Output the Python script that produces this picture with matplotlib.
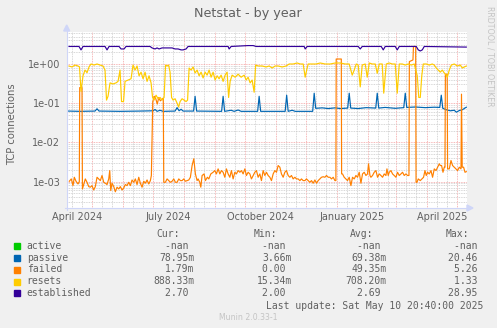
import numpy as np
import matplotlib
matplotlib.use("Agg")
import matplotlib.pyplot as plt
import matplotlib.dates as mdates
from matplotlib.ticker import FixedLocator, LogLocator, NullFormatter
from matplotlib.patches import Polygon, Rectangle
import matplotlib.transforms as mtransforms

START = np.datetime64("2024-04-05T20:40")
END = np.datetime64("2025-05-10T20:40")

# days since START / value (connections, daily averages)
passive_day = [1.3, 13.3, 28.3, 30.3, 32.3, 53.3, 73.3, 86.3, 88.3, 90.3, 93.3, 96.3,
               108.3, 110.3, 112.3, 114.3, 116.3, 126.8, 128.3, 129.8, 154.8, 156.3,
               157.8, 164.3, 167.3, 171.3, 174.3, 190.8, 192.3, 193.8, 218.3, 219.8,
               221.3, 225.3, 228.3, 245.8, 247.3, 248.8, 255.3, 261.3, 268.3, 273.3,
               280.8, 282.3, 283.8, 291.3, 299.3, 308.8, 310.3, 311.8, 318.3, 328.3,
               336.8, 338.3, 339.8, 348.3, 358.3, 367.3, 372.8, 374.3, 375.8, 379.3,
               383.3, 387.3, 389.3, 392.3, 395.3, 399.3]
passive_val = [0.063, 0.062, 0.063, 0.072, 0.063, 0.062, 0.063, 0.064, 0.069, 0.062,
               0.066, 0.062, 0.063, 0.077, 0.064, 0.070, 0.063, 0.063, 0.15, 0.063,
               0.062, 0.15, 0.062, 0.066, 0.062, 0.067, 0.062, 0.062, 0.15, 0.062,
               0.062, 0.16, 0.062, 0.066, 0.062, 0.062, 0.18, 0.074, 0.076, 0.073,
               0.076, 0.073, 0.075, 0.18, 0.075, 0.073, 0.077, 0.075, 0.18, 0.075,
               0.078, 0.074, 0.077, 0.18, 0.078, 0.080, 0.077, 0.079, 0.078, 0.16,
               0.074, 0.068, 0.064, 0.066, 0.059, 0.065, 0.068, 0.07895]

# failed is kept in milli-connections
failed_day = [2.6, 4.6, 6.3, 7.6, 9.3, 11.3, 12.6, 13.0, 15.3, 15.7, 18.6, 20.3, 22.0,
              23.6, 25.3, 27.0, 28.6, 30.3, 32.0, 33.6, 35.3, 37.0, 38.6, 40.3, 42.0,
              43.0, 44.0, 45.3, 47.0, 48.6, 50.3, 52.0, 53.6, 55.3, 57.0, 58.6, 60.3,
              62.0, 63.6, 65.3, 67.0, 68.6, 70.3, 72.0, 73.6, 75.3, 77.0, 78.6, 80.3,
              82.0, 83.6, 84.6, 86.0, 87.5, 89.0, 90.5, 92.0, 93.5, 95.0, 96.5, 97.0,
              98.6, 100.3, 102.0, 103.6, 105.3, 107.0, 108.6, 110.3, 112.0, 113.6,
              115.3, 117.0, 118.6, 120.3, 122.0, 123.6, 125.3, 127.0, 128.6, 130.3,
              131.3, 133.0, 134.0, 135.3, 137.3, 138.6, 140.6, 142.0, 144.0, 146.3,
              148.0, 149.6, 151.3, 153.0, 154.6, 156.3, 158.0, 159.6, 161.3, 163.0,
              164.6, 166.3, 168.0, 169.6, 171.3, 173.0, 174.6, 176.3, 178.0, 179.6,
              181.3, 183.0, 184.6, 186.3, 188.0, 189.6, 191.3, 193.0, 194.6, 196.3,
              198.0, 199.6, 201.3, 203.0, 204.6, 206.3, 208.0, 209.6, 211.3, 213.0,
              214.6, 216.3, 218.0, 219.6, 221.3, 223.0, 224.6, 226.3, 228.0, 229.6,
              231.3, 233.0, 234.6, 236.3, 238.0, 239.6, 241.3, 243.0, 244.6, 246.3,
              248.0, 249.6, 251.3, 253.0, 254.6, 256.3, 258.0, 259.6, 261.3, 263.0,
              264.6, 266.3, 268.0, 269.0, 269.3, 274.4, 274.7, 275.6, 277.3, 279.0,
              280.6, 282.3, 284.0, 285.6, 287.3, 289.0, 290.6, 292.3, 294.0, 295.6,
              297.3, 299.0, 300.6, 301.6, 303.0, 304.0, 305.6, 307.3, 309.0, 310.6,
              312.3, 314.0, 315.6, 317.3, 319.0, 320.0, 321.3, 322.3, 324.0, 325.6,
              327.3, 329.0, 330.6, 332.3, 334.0, 335.6, 337.3, 339.0, 340.6, 342.0,
              342.4, 346.0, 346.5, 348.7, 349.1, 350.0, 351.3, 353.3, 355.0, 356.6,
              358.0, 359.3, 360.6, 362.3, 364.0, 365.6, 367.3, 369.0, 370.6, 372.3,
              373.3, 374.6, 376.0, 377.3, 378.0, 378.4, 380.2, 380.6, 382.3, 384.0,
              385.6, 387.3, 389.0, 390.6, 392.3, 394.0, 394.5, 395.2, 396.6, 398.0,
              399.3]
failed_milli = [1.02, 1.17, 0.79, 1.29, 1.02, 0.87, 1.0, 250, 250, 0.65, 1.17, 0.96,
                0.745, 0.72, 0.79, 0.61, 0.745, 1.29, 1.17, 1.06, 1.43, 0.96, 0.91,
                0.84, 1.17, 1.91, 0.59, 0.91, 0.745, 0.55, 0.72, 0.65, 0.745, 0.61,
                0.69, 0.84, 0.79, 0.96, 0.79, 1.10, 0.96, 1.17, 0.84, 1.29, 0.91,
                0.72, 1.02, 0.91, 1.10, 0.87, 1.06, 1.43, 110, 150, 130, 95, 140, 115,
                125, 135, 0.96, 0.96, 1.17, 1.06, 0.96, 1.02, 1.17, 0.96, 0.96, 1.17,
                1.06, 1.06, 1.17, 1.02, 1.06, 1.10, 1.29, 2.57, 3.82, 1.57, 1.06,
                1.17, 0.96, 0.72, 1.43, 1.57, 1.06, 1.29, 1.17, 1.57, 1.73, 1.91,
                1.57, 2.11, 1.57, 1.91, 1.73, 1.29, 2.11, 1.57, 1.29, 1.91, 1.17,
                1.73, 1.57, 1.91, 1.73, 1.91, 1.57, 2.11, 1.43, 1.73, 1.57, 1.17,
                1.43, 1.73, 1.91, 1.29, 1.57, 1.06, 1.91, 1.43, 1.73, 1.43, 1.29,
                1.06, 1.57, 1.91, 1.73, 2.57, 2.33, 1.57, 1.29, 1.73, 1.91, 1.43,
                1.29, 1.43, 1.17, 1.29, 1.17, 1.17, 1.06, 1.17, 1.06, 1.06, 1.17,
                1.06, 0.96, 1.06, 0.91, 1.10, 0.91, 1.06, 1.17, 1.29, 1.33, 1.29,
                1.43, 1.29, 1.29, 1.17, 1.29, 1.06, 1.06, 1340, 1340, 1.57, 1.57, 1.29,
                1.17, 1.06, 1.29, 0.79, 1.29, 1.17, 1.43, 1.29, 1.73, 0.91, 1.57,
                1.73, 1.43, 1.57, 2.84, 1.43, 1.29, 1.43, 1.73, 1.91, 1.29, 1.57,
                1.43, 1.29, 1.57, 1.43, 2.11, 1.43, 1.73, 1.91, 1.57, 1.43, 1.29,
                1.73, 1.43, 1.57, 1.73, 1.43, 1.57, 1.43, 1.43, 1150, 1270, 2800,
                2800, 0.96, 0.96, 1.17, 1.06, 1.17, 1.29, 1.91, 1.43, 1.73, 1.57, 1.91,
                1.29, 2.11, 1.91, 2.33, 2.84, 2.57, 2.57, 1.73, 2.33, 2.33, 550, 550,
                2.11, 2.11, 3.45, 2.57, 2.33, 2.11, 1.91, 2.33, 2.11, 170, 2.33,
                2.33, 1.73, 1.79]

resets_day = [2.3, 5.3, 8.3, 11.3, 12.8, 14.3, 16.3, 18.3, 20.3, 22.3, 24.3, 27.3,
              30.3, 33.3, 36.3, 38.3, 39.8, 41.3, 43.3, 46.3, 49.3, 51.3, 53.3, 54.8,
              56.8, 58.3, 61.3, 64.3, 66.3, 68.3, 70.3, 72.3, 74.3, 76.3, 78.3, 80.3,
              82.3, 84.3, 85.8, 87.3, 89.3, 91.3, 93.3, 95.3, 97.3, 98.8, 100.3, 101.8,
              103.3, 104.8, 106.3, 108.3, 110.3, 111.8, 113.3, 115.3, 117.3, 119.3,
              120.8, 122.3, 124.3, 126.3, 128.3, 130.3, 132.3, 134.3, 136.3, 138.3,
              140.3, 142.3, 144.3, 146.3, 148.3, 150.3, 152.3, 154.3, 156.3, 158.3,
              160.3, 161.8, 163.3, 165.3, 168.3, 171.3, 174.3, 177.3, 179.3, 181.3,
              183.3, 185.3, 187.3, 188.8, 191.3, 195.3, 199.3, 202.3, 205.3, 208.3,
              211.3, 215.3, 219.3, 222.3, 226.3, 230.3, 233.3, 236.3, 238.3, 239.8,
              241.3, 245.3, 249.3, 253.3, 258.3, 263.3, 268.3, 273.3, 278.3, 282.3,
              285.3, 287.3, 289.3, 291.3, 293.3, 295.3, 298.3, 300.3, 302.3, 305.3,
              308.3, 310.3, 312.3, 315.3, 316.8, 319.3, 322.3, 325.3, 328.3, 330.3,
              332.3, 335.3, 338.3, 341.3, 344.3, 347.3, 350.3, 351.8, 353.3, 354.8,
              356.3, 359.3, 362.3, 365.3, 367.3, 369.3, 371.3, 373.3, 375.3, 377.3,
              379.3, 380.3, 382.3, 384.3, 387.3, 390.3, 393.3, 395.3, 397.3, 399.3]
resets_val = [0.89, 0.84, 0.94, 0.89, 0.84, 0.20, 0.50, 0.70, 0.60, 0.84, 1.00, 0.94,
              1.00, 0.94, 0.89, 0.70, 0.12, 0.15, 0.33, 0.31, 0.33, 0.36, 0.70, 0.11,
              0.11, 0.36, 0.39, 0.42, 0.94, 0.70, 0.89, 0.50, 0.62, 0.42, 0.62, 0.36,
              0.50, 0.33, 0.14, 0.12, 0.16, 0.13, 0.14, 0.12, 0.14, 0.94, 0.89, 0.94,
              0.62, 0.14, 0.12, 0.13, 0.10, 0.08, 0.11, 0.13, 0.12, 0.11, 0.12, 0.79,
              0.70, 0.84, 0.59, 0.70, 0.50, 0.62, 0.44, 0.62, 0.52, 0.70, 0.46, 0.62,
              0.39, 0.50, 0.42, 0.52, 0.36, 0.52, 0.62, 0.14, 0.36, 0.52, 0.46, 0.55,
              0.46, 0.52, 0.39, 0.46, 0.33, 0.39, 0.19, 0.94, 0.89, 0.89, 0.84, 0.89,
              0.79, 0.89, 0.89, 0.84, 0.89, 1.00, 1.00, 1.06, 1.00, 1.00, 0.46, 0.70,
              1.00, 1.00, 1.00, 1.06, 1.00, 1.00, 1.06, 1.06, 1.00, 1.00, 0.52, 0.70,
              1.00, 0.94, 0.26, 0.94, 1.00, 0.46, 1.06, 1.00, 1.00, 0.58, 1.00, 1.00,
              0.18, 1.00, 1.06, 1.00, 1.00, 0.18, 1.00, 1.00, 0.94, 1.00, 0.94, 1.00,
              0.50, 0.14, 0.14, 0.50, 1.00, 1.00, 0.94, 1.00, 0.94, 0.79, 0.70, 0.62,
              0.70, 0.59, 0.52, 0.46, 0.70, 0.94, 1.00, 0.89, 0.94, 0.79, 0.84, 0.88833]

established_day = [2.3, 12.3, 14.3, 16.3, 38.3, 40.3, 42.3, 52.3, 54.3, 57.3, 59.3,
                   83.3, 85.3, 88.3, 90.3, 92.3, 95.3, 105.3, 108.3, 111.3, 114.3,
                   116.3, 119.3, 121.3, 161.3, 162.3, 164.3, 181.3, 186.3, 189.3,
                   237.3, 238.3, 240.3, 291.3, 293.3, 295.3, 314.3, 316.3, 318.3,
                   328.3, 330.3, 332.3, 349.3, 351.3, 353.3, 355.3, 357.3, 399.3]
established_val = [2.8, 2.8, 2.29, 2.8, 2.8, 2.29, 2.8, 2.8, 2.42, 2.42, 2.8,
                   2.8, 2.57, 2.42, 2.57, 2.42, 2.57, 2.57, 2.42, 2.42, 2.29,
                   2.29, 2.42, 2.8, 2.8, 2.42, 2.8, 2.95, 2.95, 2.8,
                   2.8, 2.42, 2.8, 2.8, 2.42, 2.8, 2.8, 2.29, 2.8,
                   2.8, 2.29, 2.8, 2.8, 2.29, 2.15, 2.29, 2.8, 2.70]

legend_names = ["active", "passive", "failed", "resets", "established"]
legend_colors = ["#00CC00", "#0066B3", "#FF8000", "#FFCC00", "#330099"]
legend_cur = ["-nan ", "78.95m", "1.79m", "888.33m", "2.70 "]
legend_min = ["-nan ", "3.66m", "0.00 ", "15.34m", "2.00 "]
legend_avg = ["-nan ", "69.38m", "49.35m", "708.20m", "2.69 "]
legend_max = ["-nan ", "20.46 ", "5.26 ", "1.33 ", "28.95 "]

month_labels = ["April 2024", "July 2024", "October 2024", "January 2025", "April 2025"]
month_label_dates = ["2024-04-16", "2024-07-16", "2024-10-16", "2025-01-16", "2025-04-16"]

FONT = "#606060"
MONO = "DejaVu Sans Mono"


def to_dates(days):
    return START + (np.asarray(days) * 86400).astype("timedelta64[s]")


fig = plt.figure(figsize=(4.97, 3.28), dpi=100, facecolor="#F0F0F0")
W, H = 497, 328
x0, x1, y0, y1 = 66.7, 467, 32, 208
ax = fig.add_axes([x0 / W, 1 - y1 / H, (x1 - x0) / W, (y1 - y0) / H])
ax.set_facecolor("white")
for s in ax.spines.values():
    s.set_visible(False)

ax.set_yscale("log")
ax.set_ylim(2.12e-4, 6.55)
ax.set_xlim(START, END)

ax.yaxis.set_major_locator(FixedLocator([1e-3, 1e-2, 1e-1, 1]))
ax.yaxis.set_minor_locator(LogLocator(base=10, subs=range(2, 10), numticks=20))
ax.yaxis.set_minor_formatter(NullFormatter())
ax.set_yticklabels(["1e-03", "1e-02", "1e-01", "1e+00"])
ax.xaxis.set_major_locator(mdates.MonthLocator())
ax.xaxis.set_minor_locator(mdates.DayLocator(bymonthday=[11, 21]))
ax.xaxis.set_major_formatter(NullFormatter())
ax.xaxis.set_minor_formatter(NullFormatter())
ax.tick_params(which="both", length=0)
ax.tick_params(axis="y", pad=4.5, labelsize=7, labelcolor=FONT)

ax.grid(which="minor", color="#CACACA", linestyle=(0, (1, 1)), linewidth=0.6)
ax.grid(which="major", color="#F4A0A0", linestyle=(0, (1, 1)), linewidth=0.6)
ax.set_axisbelow(True)

lw = 0.85
ax.plot(to_dates(passive_day), passive_val, color="#0066B3", lw=lw)
ax.plot(to_dates(failed_day), np.array(failed_milli) / 1000, color="#FF8000", lw=lw)
ax.plot(to_dates(resets_day), resets_val, color="#FFCC00", lw=lw)
ax.plot(to_dates(established_day), established_val, color="#330099", lw=lw)

# month names centred on their month
lab_tr = mtransforms.blended_transform_factory(ax.transData, fig.transFigure)
for lab, d in zip(month_labels, month_label_dates):
    ax.text(np.datetime64(d), 1 - 216.5 / H, lab, transform=lab_tr, ha="center",
            va="center", fontsize=7, color=FONT, clip_on=False)

# pixel overlay for frame, titles and legend
ov = fig.add_axes([0, 0, 1, 1])
ov.set_xlim(0, W)
ov.set_ylim(H, 0)
ov.axis("off")
ov.patch.set_alpha(0)

axis_col = "#CFD6F8"
ov.plot([x0, x0], [y1 + 2, 30], color=axis_col, lw=0.8)
ov.plot([x0 - 2, 468], [y1, y1], color=axis_col, lw=0.8)
ov.add_patch(Polygon([[x0 - 3, 31], [x0 + 3, 31], [x0, 25]], closed=True, color=axis_col))
ov.add_patch(Polygon([[467, y1 - 3], [467, y1 + 3], [473, y1]], closed=True, color=axis_col))

ov.text(248, 13, "Netstat - by year", ha="center", va="center", fontsize=9.2, color=FONT)
ov.text(12, 124, "TCP connections", ha="center", va="center", rotation=90,
        fontsize=7.2, color=FONT)
ov.text(490, 56, "RRDTOOL / TOBI OETIKER", ha="center", va="center", rotation=270,
        fontsize=5.7, color="#C4C4C4")

ov.text(180, 234, "Cur:", ha="right", va="center", fontsize=7, family=MONO, color=FONT)
ov.text(277.5, 234, "Min:", ha="right", va="center", fontsize=7, family=MONO, color=FONT)
ov.text(373.5, 234, "Avg:", ha="right", va="center", fontsize=7, family=MONO, color=FONT)
ov.text(469.5, 234, "Max:", ha="right", va="center", fontsize=7, family=MONO, color=FONT)

row_y = [245.7, 257.6, 269.5, 281.5, 293.4]
for i, name in enumerate(legend_names):
    y = row_y[i]
    ov.add_patch(Rectangle((14, y - 3), 6, 6, color=legend_colors[i]))
    ov.text(26.7, y, name, ha="left", va="center", fontsize=7, family=MONO, color=FONT)
    for xr, col in zip([194.3, 291.8, 386.8, 483.3],
                       [legend_cur, legend_min, legend_avg, legend_max]):
        ov.text(xr, y, col[i].replace(" ", "\u00a0"), ha="right", va="center",
                fontsize=7, family=MONO, color=FONT)

ov.text(483.3, 305.6, "Last update: Sat May 10 20:40:00 2025", ha="right", va="center",
        fontsize=7, family=MONO, color=FONT)
ov.text(248, 317.5, "Munin 2.0.33-1", ha="center", va="center", fontsize=5.6,
        color="#C4C4C4")

fig.savefig("out.png", dpi=100, facecolor=fig.get_facecolor())
